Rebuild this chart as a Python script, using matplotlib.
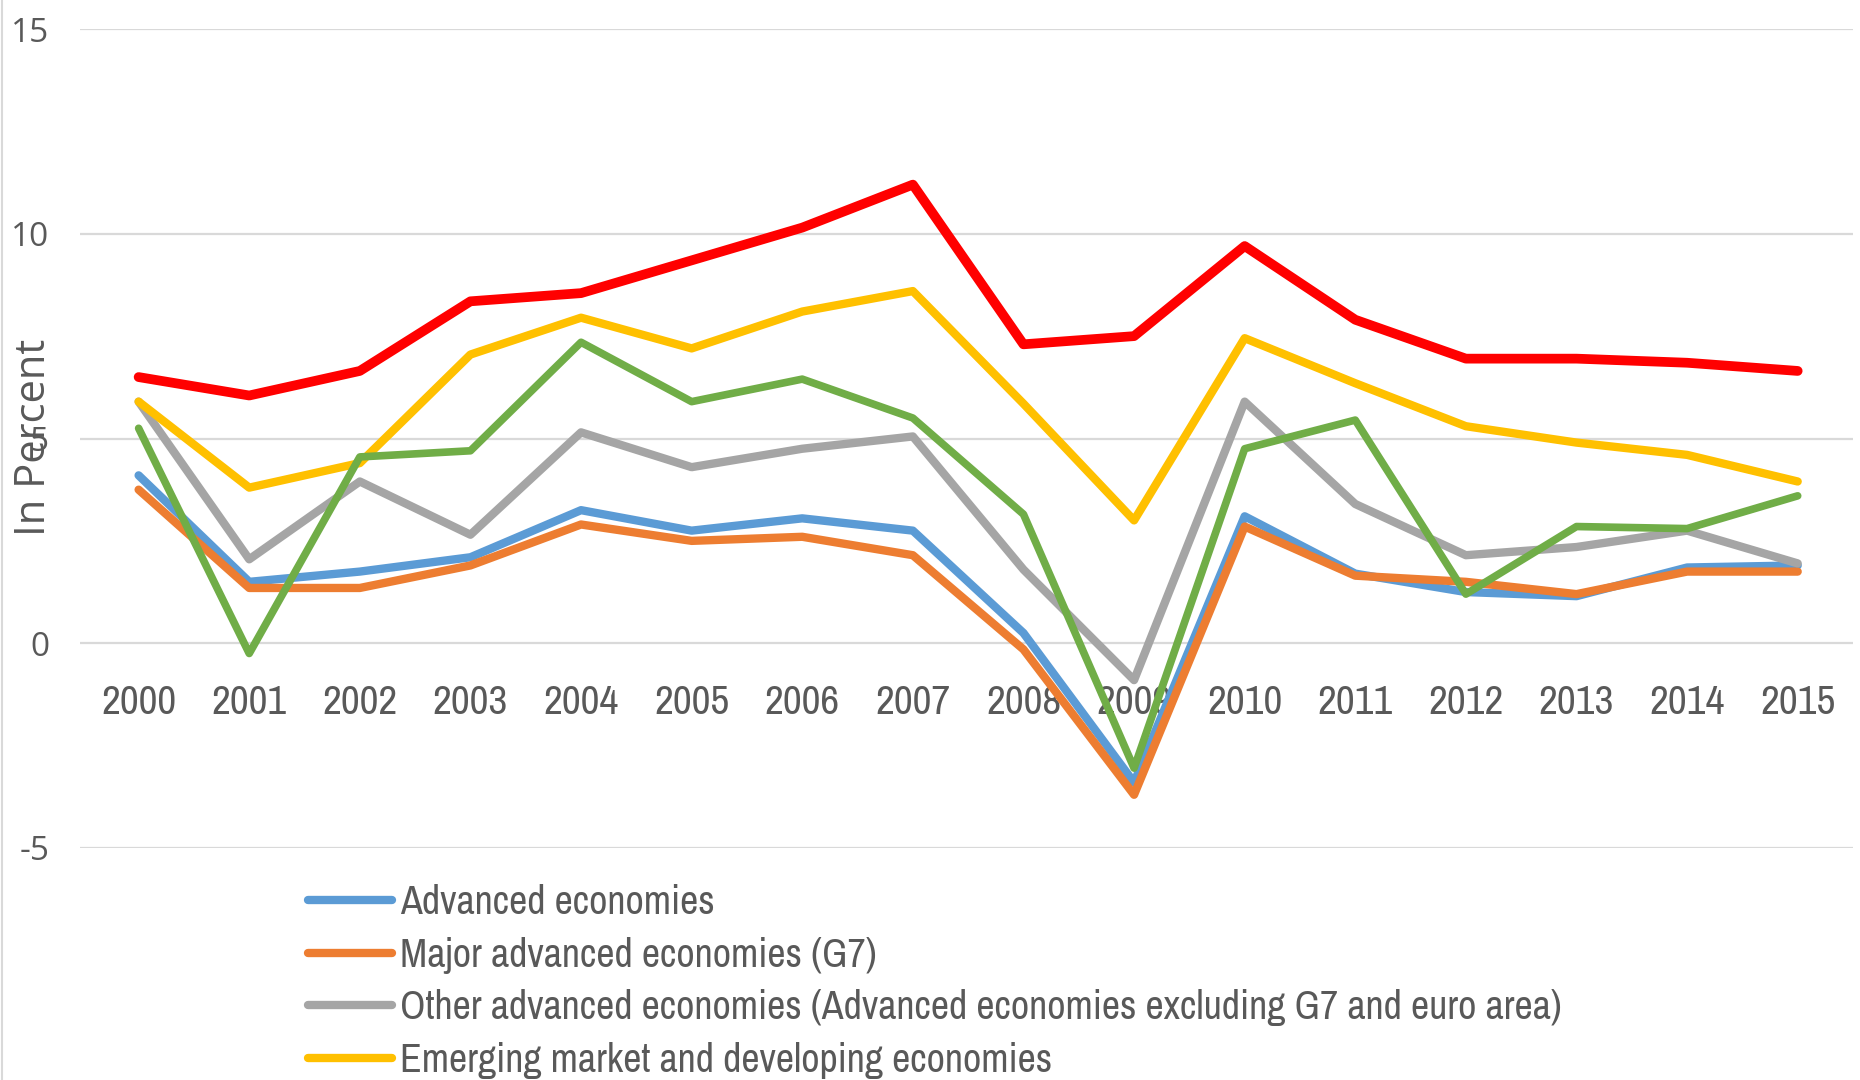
import matplotlib
matplotlib.use("Agg")
import matplotlib.pyplot as plt
from matplotlib import font_manager
from matplotlib.font_manager import FontProperties
from matplotlib.textpath import TextPath
from matplotlib.lines import Line2D

plt.rcParams["axes.unicode_minus"] = False

years = ["2000", "2001", "2002", "2003", "2004", "2005", "2006", "2007",
         "2008", "2009", "2010", "2011", "2012", "2013", "2014", "2015"]

advanced = [4.1, 1.5, 1.75, 2.1, 3.25, 2.75, 3.05, 2.75, 0.25, -3.4, 3.1, 1.7, 1.25, 1.15, 1.85, 1.9]
g7 = [3.75, 1.35, 1.35, 1.9, 2.9, 2.5, 2.6, 2.15, -0.15, -3.7, 2.85, 1.65, 1.5, 1.2, 1.75, 1.75]
other_adv = [5.9, 2.05, 3.95, 2.65, 5.15, 4.3, 4.75, 5.05, 1.8, -0.9, 5.9, 3.4, 2.15, 2.35, 2.75, 1.95]
emde = [5.9, 3.8, 4.4, 7.05, 7.95, 7.2, 8.1, 8.6, 5.85, 3.0, 7.45, 6.35, 5.3, 4.9, 4.6, 3.95]
green_series = [5.25, -0.25, 4.55, 4.7, 7.35, 5.9, 6.45, 5.5, 3.15, -3.05, 4.75, 5.45, 1.2, 2.85, 2.8, 3.6]
red_series = [6.5, 6.05, 6.65, 8.35, 8.55, 9.35, 10.15, 11.2, 7.3, 7.5, 9.7, 7.9, 6.95, 6.95, 6.85, 6.65]

labels = ["Advanced economies",
          "Major advanced economies (G7)",
          "Other advanced economies (Advanced economies excluding G7 and euro area)",
          "Emerging market and developing economies"]

colors = ["#5B9BD5", "#ED7D31", "#A5A5A5", "#FFC000", "#70AD47", "#FF0000"]
txt_color = "#595959"


def find_narrow_font():
    regular = (400, "normal", "regular", "book")
    cands = []
    for f in font_manager.fontManager.ttflist:
        if f.style != "normal" or f.weight not in regular:
            continue
        nm = f.name
        st = f.stretch
        score = None
        if "Narrow" in nm:
            score = 0
        elif isinstance(st, str) and st == "condensed" or "Condensed" in nm and "Semi" not in nm and "Extra" not in nm:
            score = 1
        elif isinstance(st, str) and st == "semi-condensed" or "SemiCondensed" in nm:
            score = 2
        if score is None:
            continue
        fam_rank = 5
        for i, fam in enumerate(["Liberation", "Noto Sans", "Roboto", "Open Sans", "DejaVu Sans"]):
            if nm.startswith(fam):
                fam_rank = i
                break
        if "Mono" in nm or "Serif" in nm or "CJK" in nm:
            continue
        cands.append((score, fam_rank, f.fname))
    if cands:
        cands.sort()
        return FontProperties(fname=cands[0][2])
    return FontProperties(family="Open Sans")


def fit_size(text, fp, target_px):
    w100 = TextPath((0, 0), text, size=100, prop=fp).get_extents().width
    return target_px * 72.0 / w100


narrow_base = find_narrow_font()
tick_size = fit_size("2000", narrow_base, 72)
leg_size = fit_size("Advanced economies", narrow_base, 313)

xtick_fp = narrow_base.copy()
xtick_fp.set_size(tick_size)
leg_fp = narrow_base.copy()
leg_fp.set_size(leg_size)

fig = plt.figure(figsize=(18.6, 10.8), dpi=100)
ax = fig.add_axes([80 / 1860, 1 - 848 / 1080, 1773 / 1860, 819 / 1080])

x = list(range(len(years)))
series = [advanced, g7, other_adv, emde, green_series, red_series]
lws = [6.0, 6.0, 6.0, 6.0, 5.5, 7.0]
handles = []
for i, (vals, c, lw) in enumerate(zip(series, colors, lws)):
    ln, = ax.plot(x, vals, color=c, lw=lw, solid_capstyle="round",
                  solid_joinstyle="round", zorder=3 + i)
    handles.append(ln)

ax.set_xlim(-0.53, 15.5)
ax.set_ylim(-5, 15)
ax.set_yticks([-5, 0, 5, 10, 15])
ax.set_xticks(x)
ax.set_xticklabels(years)
ax.grid(axis="y", color="#D9D9D9", lw=1.6)
ax.set_axisbelow(True)
for s in ax.spines.values():
    s.set_visible(False)
ax.spines["bottom"].set_position(("data", 0))
ax.tick_params(axis="x", length=0, pad=29, labelcolor=txt_color)
ax.tick_params(axis="y", length=0, pad=22, labelcolor=txt_color, labelsize=24)
for t in ax.get_xticklabels():
    t.set_fontproperties(xtick_fp)
for t in ax.get_yticklabels():
    t.set_fontfamily("Open Sans")

fig.text(34 / 1860, 1 - 437 / 1080, "In Percent", rotation=90, ha="center", va="center",
         fontsize=30, color=txt_color, family="Open Sans")

fig.add_artist(Line2D([2 / 1860, 2 / 1860], [0, 1], transform=fig.transFigure,
                      color="#D9D9D9", lw=1.5))

em = leg_size * 100 / 72.0
leg = fig.legend(handles[:4], labels, loc="upper left",
                 bbox_to_anchor=(308 / 1860, 1 - (898 - 0.35 * em) / 1080),
                 frameon=False, borderpad=0, borderaxespad=0,
                 handlelength=84 / em, handletextpad=8 / em,
                 labelspacing=(57.5 - 1.05 * em) / em, prop=leg_fp)
for t in leg.get_texts():
    t.set_color(txt_color)

fig.savefig("out.png", dpi=100)
